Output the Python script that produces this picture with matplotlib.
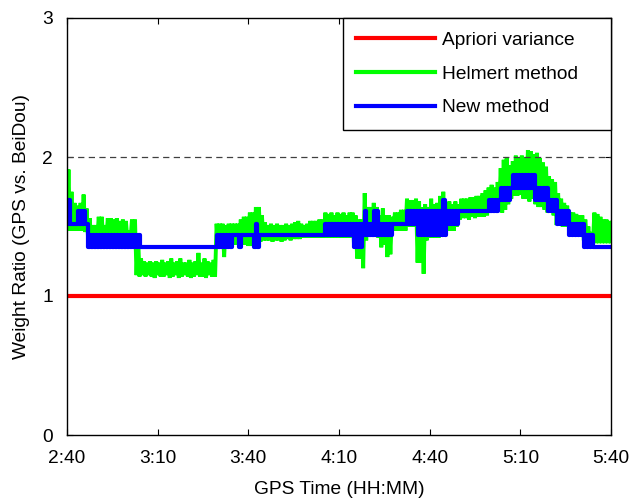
import numpy as np
import matplotlib
matplotlib.use("Agg")
import matplotlib.pyplot as plt

plt.rcParams['font.family'] = ['Liberation Sans', 'DejaVu Sans']

# GPS time in minutes after midnight, one sample per minute (2:40 .. 5:40)
minutes = np.arange(160, 341)

tick_minutes = [160, 190, 220, 250, 280, 310, 340]
tick_labels = ['2:40', '3:10', '3:40', '4:10', '4:40', '5:10', '5:40']
y_ticks = [0, 1, 2, 3]

# Helmert method: upper / lower envelope of the noisy ratio per minute
helmert_hi = [
    1.91, 1.75, 1.67, 1.65, 1.67, 1.73, 1.63, 1.56, 1.51, 1.51,
    1.57, 1.57, 1.51, 1.56, 1.56, 1.55, 1.56, 1.54, 1.55, 1.54,
    1.47, 1.55, 1.55, 1.45, 1.27, 1.25, 1.24, 1.25, 1.24, 1.25,
    1.24, 1.26, 1.24, 1.25, 1.27, 1.24, 1.25, 1.27, 1.24, 1.24,
    1.26, 1.24, 1.25, 1.31, 1.24, 1.27, 1.25, 1.24, 1.26, 1.52,
    1.52, 1.52, 1.51, 1.52, 1.52, 1.52, 1.52, 1.55, 1.57, 1.57,
    1.60, 1.60, 1.64, 1.64, 1.58, 1.53, 1.51, 1.52, 1.51, 1.52,
    1.51, 1.51, 1.52, 1.51, 1.52, 1.53, 1.54, 1.52, 1.51, 1.52,
    1.54, 1.54, 1.54, 1.55, 1.55, 1.60, 1.59, 1.60, 1.58, 1.60,
    1.59, 1.60, 1.58, 1.60, 1.60, 1.58, 1.55, 1.55, 1.74, 1.64,
    1.64, 1.67, 1.64, 1.58, 1.63, 1.58, 1.58, 1.57, 1.60, 1.60,
    1.62, 1.62, 1.70, 1.69, 1.69, 1.70, 1.68, 1.64, 1.66, 1.64,
    1.70, 1.66, 1.67, 1.72, 1.75, 1.65, 1.68, 1.66, 1.68, 1.66,
    1.70, 1.70, 1.70, 1.71, 1.71, 1.72, 1.72, 1.74, 1.76, 1.78,
    1.80, 1.78, 1.82, 1.92, 1.98, 2.00, 1.94, 1.97, 2.01, 1.99,
    2.01, 2.00, 2.05, 2.04, 2.02, 2.03, 1.99, 1.96, 1.93, 1.86,
    1.84, 1.82, 1.74, 1.70, 1.67, 1.65, 1.60, 1.60, 1.59, 1.58,
    1.58, 1.55, 1.50, 1.46, 1.60, 1.59, 1.57, 1.55, 1.55, 1.54, 1.53,
]
helmert_lo = [
    1.49, 1.47, 1.47, 1.47, 1.47, 1.47, 1.46, 1.40, 1.40, 1.40,
    1.40, 1.40, 1.40, 1.40, 1.40, 1.40, 1.40, 1.40, 1.40, 1.40,
    1.40, 1.40, 1.40, 1.15, 1.14, 1.15, 1.14, 1.15, 1.14, 1.13,
    1.15, 1.14, 1.14, 1.15, 1.13, 1.14, 1.15, 1.13, 1.14, 1.15,
    1.14, 1.13, 1.14, 1.15, 1.14, 1.14, 1.13, 1.15, 1.14, 1.14,
    1.35, 1.35, 1.28, 1.36, 1.37, 1.37, 1.37, 1.37, 1.37, 1.37,
    1.36, 1.36, 1.36, 1.36, 1.39, 1.40, 1.40, 1.40, 1.39, 1.40,
    1.40, 1.39, 1.40, 1.41, 1.40, 1.41, 1.41, 1.41, 1.42, 1.42,
    1.42, 1.42, 1.42, 1.42, 1.42, 1.42, 1.42, 1.42, 1.42, 1.42,
    1.42, 1.42, 1.42, 1.42, 1.42, 1.35, 1.27, 1.27, 1.20, 1.40,
    1.45, 1.45, 1.43, 1.42, 1.35, 1.37, 1.28, 1.30, 1.47, 1.47,
    1.47, 1.47, 1.47, 1.50, 1.50, 1.50, 1.24, 1.24, 1.16, 1.40,
    1.42, 1.42, 1.42, 1.42, 1.44, 1.47, 1.47, 1.47, 1.47, 1.50,
    1.55, 1.56, 1.56, 1.55, 1.57, 1.56, 1.57, 1.57, 1.57, 1.58,
    1.60, 1.60, 1.60, 1.62, 1.60, 1.62, 1.66, 1.70, 1.72, 1.72,
    1.73, 1.70, 1.70, 1.68, 1.70, 1.66, 1.64, 1.64, 1.62, 1.60,
    1.60, 1.58, 1.51, 1.51, 1.50, 1.50, 1.50, 1.49, 1.48, 1.47,
    1.45, 1.40, 1.40, 1.38, 1.38, 1.38, 1.38, 1.38, 1.38, 1.38, 1.38,
]

# New method: piecewise levels (segment length in minutes, low level, high level)
new_len = [1, 2, 3, 1, 17, 25, 6, 2, 1, 4, 1, 1, 21, 10, 3, 1, 2, 2, 5, 4,
           4, 8, 1, 1, 4, 9, 4, 4, 8, 4, 3, 4, 5, 3, 7]
new_lo = [1.52, 1.52, 1.52, 1.52, 1.35, 1.35, 1.35, 1.44, 1.35, 1.44,
          1.35, 1.35, 1.44, 1.44, 1.35, 1.44, 1.44, 1.44, 1.44, 1.52,
          1.52, 1.44, 1.44, 1.44, 1.52, 1.61, 1.61, 1.69, 1.78, 1.69,
          1.61, 1.52, 1.44, 1.35, 1.35]
new_hi = [1.69, 1.52, 1.61, 1.52, 1.44, 1.35, 1.44, 1.44, 1.44, 1.44,
          1.52, 1.44, 1.44, 1.52, 1.52, 1.61, 1.52, 1.61, 1.52, 1.52,
          1.61, 1.61, 1.69, 1.61, 1.61, 1.61, 1.69, 1.78, 1.87, 1.78,
          1.69, 1.61, 1.52, 1.44, 1.35]

apriori = 1.0

RED = (1, 0, 0)
GREEN = (0, 1, 0)
BLUE = (0, 0, 1)


def interleave(t, lo, hi):
    """alternate low/high samples half a minute apart so the band is filled"""
    tt = np.empty(2 * len(t))
    yy = np.empty(2 * len(t))
    tt[0::2] = t
    tt[1::2] = t + 0.5
    yy[0::2] = lo
    yy[1::2] = hi
    return tt, yy


fig = plt.figure(figsize=(6.29, 5.0), dpi=100)
ax = fig.add_axes([0.1065, 0.13, 0.8649, 0.834])

# Helmert method
gt, gy = interleave(minutes, np.array(helmert_lo), np.array(helmert_hi))
ax.plot(gt, gy, color=GREEN, lw=2.8, solid_joinstyle='miter')

# New method
blo = np.repeat(new_lo, new_len)
bhi = np.repeat(new_hi, new_len)
bt, by = interleave(minutes, blo, bhi)
ax.plot(bt, by, color=BLUE, lw=3.0, drawstyle='steps-post')

# a-priori variance ratio
ax.plot([minutes[0], minutes[-1]], [apriori, apriori], color=RED, lw=3.0)

ax.axhline(2, color='#404040', lw=0.9, ls=(0, (5, 3.5)))

ax.set_xlim(160, 340)
ax.set_ylim(0, 3)
ax.set_xticks(tick_minutes)
ax.set_xticklabels(tick_labels)
ax.set_yticks(y_ticks)
ax.tick_params(direction='in', length=4, width=0.8, labelsize=13.8,
               top=True, right=True)
ax.tick_params(axis='x', pad=11)
ax.tick_params(axis='y', pad=10)
for s in ax.spines.values():
    s.set_linewidth(1.0)

ax.set_xlabel('GPS Time (HH:MM)', fontsize=13.8, labelpad=10)
ax.set_ylabel('Weight Ratio (GPS vs. BeiDou)', fontsize=13.8, labelpad=9)

# legend with proxy lines in the requested order
h_red, = ax.plot([], [], color=RED, lw=3.0)
h_green, = ax.plot([], [], color=GREEN, lw=3.0)
h_blue, = ax.plot([], [], color=BLUE, lw=3.0)
leg = ax.legend([h_red, h_green, h_blue],
                ['Apriori variance', 'Helmert method', 'New method'],
                loc='upper right', bbox_to_anchor=(0.507, 0, 0.493, 1),
                mode='expand', borderaxespad=0, fontsize=13.8,
                handlelength=4.1, handletextpad=0.4, labelspacing=0.85,
                borderpad=0.7, fancybox=False, framealpha=1,
                edgecolor='black')
leg.get_frame().set_linewidth(1.0)

fig.savefig('out.png', dpi=100)
